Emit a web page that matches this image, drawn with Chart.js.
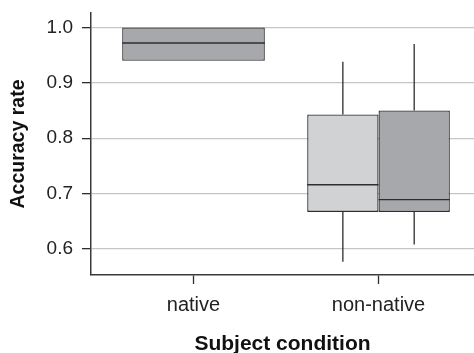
<!DOCTYPE html>
<html>
<head>
<meta charset="utf-8">
<script src="https://cdn.jsdelivr.net/npm/chart.js@4.4.1/dist/chart.umd.min.js"></script>
<style>
    html, body { margin: 0; padding: 0; background: #fff; overflow: hidden; }
</style>
</head>
<body>
<canvas id="chart" width="474" height="353"></canvas>
<script>
// --- Data ---
const categories = ['native', 'non-native'];
const categoryPositions = [1, 2];
const yTickValues = [0.6, 0.7, 0.8, 0.9, 1.0];

// light grey boxes (no light box for native speakers)
const lightLowerWhisker = [null, 0.577];
const lightQ1 = [null, 0.667];
const lightMedian = [null, 0.716];
const lightQ3 = [null, 0.843];
const lightUpperWhisker = [null, 0.938];

// dark grey boxes
const darkLowerWhisker = [0.940, 0.608];
const darkQ1 = [0.940, 0.667];
const darkMedian = [0.972, 0.689];
const darkQ3 = [1.0, 0.850];
const darkUpperWhisker = [1.0, 0.970];

const boxStats = [
    { lo: lightLowerWhisker, q1: lightQ1, med: lightMedian, q3: lightQ3, hi: lightUpperWhisker },
    { lo: darkLowerWhisker, q1: darkQ1, med: darkMedian, q3: darkQ3, hi: darkUpperWhisker }
];

const FONT = '"Liberation Sans", Arial, Helvetica, sans-serif';
const INK = '#2e2e2e';

function boxData(stats) {
    return categoryPositions.map((x, i) => ({
        x,
        y: stats.q1[i] == null ? null : [stats.q1[i], stats.q3[i]]
    }));
}

// keep the plot area where the reference has it
function noLabelPadding(scale) {
    scale.paddingTop = 0;
    scale.paddingBottom = 0;
    scale.paddingLeft = 0;
    scale.paddingRight = 0;
}

// whiskers + median lines on top of the bars
const boxDetails = {
    id: 'boxDetails',
    afterDatasetsDraw(chart) {
        const { ctx } = chart;
        const yScale = chart.scales.y;
        ctx.save();
        ctx.strokeStyle = INK;
        ctx.lineWidth = 1.3;
        chart.data.datasets.forEach((ds, di) => {
            const stats = boxStats[di];
            chart.getDatasetMeta(di).data.forEach((bar, i) => {
                if (stats.med[i] == null) return;
                const { x, width } = bar.getProps(['x', 'width'], true);
                const yLo = yScale.getPixelForValue(stats.lo[i]);
                const yQ1 = yScale.getPixelForValue(stats.q1[i]);
                const yMed = yScale.getPixelForValue(stats.med[i]);
                const yQ3 = yScale.getPixelForValue(stats.q3[i]);
                const yHi = yScale.getPixelForValue(stats.hi[i]);
                ctx.beginPath();
                ctx.moveTo(x, yQ3); ctx.lineTo(x, yHi);
                ctx.moveTo(x, yQ1); ctx.lineTo(x, yLo);
                ctx.moveTo(x - width / 2, yMed); ctx.lineTo(x + width / 2, yMed);
                ctx.stroke();
            });
        });
        ctx.restore();
    }
};

new Chart(document.getElementById('chart'), {
    type: 'bar',
    data: {
        datasets: [
            {
                label: 'light',
                data: boxData(boxStats[0]),
                backgroundColor: '#d1d2d4',
                borderColor: INK,
                borderWidth: 1.3,
                borderSkipped: false,
                skipNull: true
            },
            {
                label: 'dark',
                data: boxData(boxStats[1]),
                backgroundColor: '#a7a8ab',
                borderColor: INK,
                borderWidth: 1.3,
                borderSkipped: false,
                skipNull: true
            }
        ]
    },
    options: {
        responsive: false,
        animation: false,
        categoryPercentage: 0.771,
        barPercentage: 1.0,
        layout: { padding: { top: 13, right: 0, left: 0, bottom: 0 } },
        plugins: {
            legend: { display: false },
            tooltip: { enabled: false }
        },
        scales: {
            x: {
                type: 'linear',
                min: 0.446,
                max: 2.516,
                offset: false,
                afterBuildTicks: (scale) => {
                    scale.ticks = categoryPositions.map(v => ({ value: v }));
                },
                afterFit: (scale) => {
                    scale.height = 78;
                    noLabelPadding(scale);
                },
                ticks: {
                    callback: (v) => categories[categoryPositions.indexOf(v)],
                    font: { family: FONT, size: 20 },
                    color: '#222',
                    padding: 9,
                    maxRotation: 0
                },
                grid: {
                    drawOnChartArea: false,
                    offset: false,
                    tickLength: 9,
                    tickColor: INK,
                    tickWidth: 1.3
                },
                border: { display: true, color: '#3a3a3a', width: 1.5 },
                title: {
                    display: true,
                    text: 'Subject condition',
                    font: { family: FONT, size: 21, weight: 'bold', lineHeight: 0.8 },
                    color: '#111',
                    padding: { top: 0, bottom: 0 }
                }
            },
            y: {
                min: 0.553,
                max: 1.0262,
                afterBuildTicks: (scale) => {
                    scale.ticks = yTickValues.map(v => ({ value: v }));
                },
                afterFit: (scale) => {
                    scale.width = 91;
                    noLabelPadding(scale);
                },
                ticks: {
                    callback: (v) => v.toFixed(1),
                    font: { family: FONT, size: 19 },
                    color: '#222',
                    padding: 9
                },
                grid: {
                    color: '#c6c6c6',
                    lineWidth: 1.3,
                    tickLength: 9,
                    tickColor: INK,
                    tickWidth: 1.3
                },
                border: { display: true, color: '#3a3a3a', width: 1.5 },
                title: {
                    display: true,
                    text: 'Accuracy rate',
                    font: { family: FONT, size: 19.5, weight: 'bold', lineHeight: 1 },
                    color: '#111',
                    padding: { top: 8.5, bottom: 0 }
                }
            }
        }
    },
    plugins: [boxDetails]
});
</script>
</body>
</html>
